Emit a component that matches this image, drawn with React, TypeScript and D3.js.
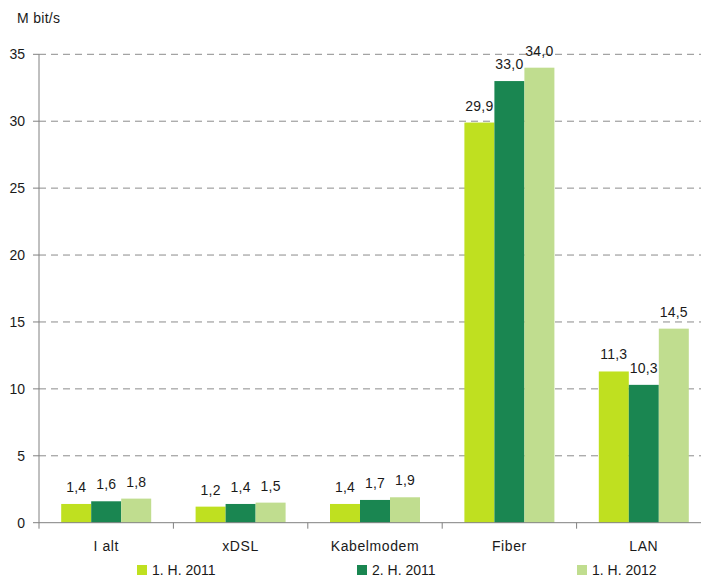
import React from 'react';
import { scaleBand, scaleLinear, range } from 'd3';

const categories = ['I alt', 'xDSL', 'Kabelmodem', 'Fiber', 'LAN'];
const seriesNames = ['1. H. 2011', '2. H. 2011', '1. H. 2012'];
const seriesColors = ['#bfe020', '#1a8651', '#c0dd8f'];
const h1_2011 = [1.4, 1.2, 1.4, 29.9, 11.3];
const h2_2011 = [1.6, 1.4, 1.7, 33.0, 10.3];
const h1_2012 = [1.8, 1.5, 1.9, 34.0, 14.5];
const yTicks = [0, 5, 10, 15, 20, 25, 30, 35];

const W = 701;
const H = 577;
const font = '"Liberation Sans", Arial, sans-serif';

export default function App() {
  const values = [h1_2011, h2_2011, h1_2012];

  // outer scale runs past the right edge, like the original
  const x0 = scaleBand<string>().domain(categories).range([39, 711]);
  const x1 = scaleBand<string>()
    .domain(seriesNames)
    .range([0, x0.bandwidth()])
    .paddingInner(0)
    .paddingOuter(0.74);
  const y = scaleLinear().domain([0, 35]).range([522.7, 54.3]);
  const legendX = scaleBand<string>().domain(seriesNames).range([137, 797]);

  const fmt = (v: number) => v.toFixed(1).replace('.', ',');

  return (
    <svg
      width={W}
      height={H}
      style={{ position: 'absolute', left: 0, top: 0, background: '#fff' }}
      fontFamily={font}
    >
      <text x={17} y={23} fontSize={14} fill="#1a1a1a" letterSpacing={0.3}>
        M bit/s
      </text>

      {/* gridlines */}
      {yTicks.filter(t => t > 0).map(t => (
        <line
          key={t}
          x1={39}
          x2={W}
          y1={y(t)}
          y2={y(t)}
          stroke="#8c8c8c"
          strokeWidth={1}
          strokeDasharray="7,5"
        />
      ))}

      {/* y ticks + labels */}
      {yTicks.map(t => (
        <g key={t}>
          <line x1={33} x2={39} y1={y(t)} y2={y(t)} stroke="#808080" />
          <text
            x={25}
            y={y(t)}
            dy="0.35em"
            textAnchor="end"
            fontSize={14}
            fill="#1a1a1a"
          >
            {t}
          </text>
        </g>
      ))}

      {/* bars */}
      {categories.map((c, ci) => (
        <g key={c} transform={`translate(${x0(c)},0)`}>
          {seriesNames.map((s, si) => {
            const v = values[si][ci];
            const bx = x1(s)!;
            return (
              <g key={s}>
                <rect
                  x={bx}
                  y={y(v)}
                  width={x1.bandwidth()}
                  height={y(0) - y(v)}
                  fill={seriesColors[si]}
                />
                <text
                  x={bx + x1.bandwidth() / 2}
                  y={y(v) - 12}
                  textAnchor="middle"
                  fontSize={14}
                  fill="#1a1a1a"
                  letterSpacing={0.2}
                >
                  {fmt(v)}
                </text>
              </g>
            );
          })}
          <text
            x={x0.bandwidth() / 2}
            y={551}
            textAnchor="middle"
            fontSize={14}
            fill="#1a1a1a"
            letterSpacing={0.6}
          >
            {c}
          </text>
        </g>
      ))}

      {/* axes */}
      <line x1={39} x2={39} y1={y(35)} y2={y(0)} stroke="#808080" />
      <line x1={39} x2={W} y1={y(0)} y2={y(0)} stroke="#808080" />
      {range(categories.length + 1).map(i => {
        const xx = 39 + i * x0.step();
        return <line key={i} x1={xx} x2={xx} y1={y(0)} y2={y(0) + 6} stroke="#808080" />;
      })}

      {/* legend */}
      {seriesNames.map((s, si) => (
        <g key={s} transform={`translate(${legendX(s)},565)`}>
          <rect x={0} y={0} width={10} height={10} fill={seriesColors[si]} />
          <text x={15} y={10} fontSize={14} fill="#1a1a1a">
            {s}
          </text>
        </g>
      ))}
    </svg>
  );
}
